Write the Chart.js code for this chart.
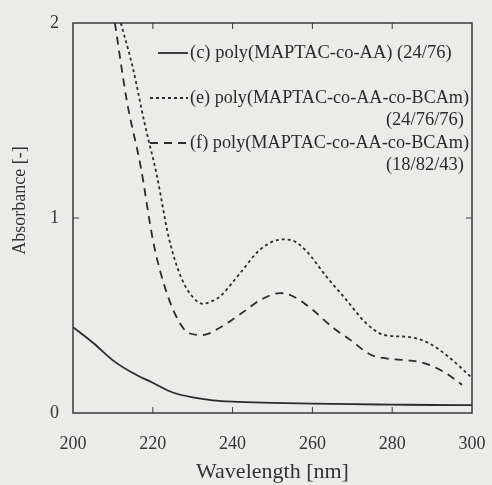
<!DOCTYPE html>
<html>
<head>
<meta charset="utf-8">
<script src="https://cdn.jsdelivr.net/npm/chart.js@4"></script>
<style>
html, body { margin: 0; padding: 0; background: #ebebea; }
#wrap { width: 492px; height: 485px; }
</style>
</head>
<body>
<div id="wrap"><canvas id="chart" width="492" height="485"></canvas></div>
<script>
// Axis ticks
const xTicks = [200, 220, 240, 260, 280, 300];
const yTicks = [0, 1, 2];

// (c) poly(MAPTAC-co-AA) (24/76) - solid
const wlC = [200, 205, 210, 215, 220, 225, 230, 235, 240, 250, 260, 270, 280, 290, 300];
const absC = [0.44, 0.36, 0.27, 0.205, 0.155, 0.105, 0.08, 0.065, 0.058, 0.052, 0.048, 0.045, 0.043, 0.041, 0.04];

// (e) poly(MAPTAC-co-AA-co-BCAm) (24/76/76) - dotted
const wlE = [212, 215, 218, 221, 224, 227, 230, 232.5, 235, 237, 240, 242, 247, 252.5, 255, 258.5, 263.5, 268.5, 273.5, 278, 284, 289, 294, 300];
const absE = [2.0, 1.77, 1.48, 1.22, 0.9, 0.7, 0.595, 0.56, 0.575, 0.6, 0.67, 0.72, 0.84, 0.89, 0.885, 0.83, 0.7, 0.58, 0.46, 0.4, 0.39, 0.36, 0.29, 0.18];

// (f) poly(MAPTAC-co-AA-co-BCAm) (18/82/43) - dashed
const wlF = [210.5, 213.5, 217, 220, 222.5, 226, 229, 232.5, 237, 243.5, 247, 252, 255, 260, 265, 269.5, 274.5, 278.5, 284, 288, 293, 297.5];
const absF = [2.0, 1.6, 1.26, 0.89, 0.68, 0.49, 0.41, 0.4, 0.44, 0.53, 0.58, 0.615, 0.6, 0.53, 0.44, 0.375, 0.3, 0.28, 0.27, 0.256, 0.21, 0.145];

const legendLines = [
    { dash: [], from: 85, text: ['(c) poly(MAPTAC-co-AA) (24/76)'] },
    { dash: [3, 3], from: 77, text: ['(e) poly(MAPTAC-co-AA-co-BCAm)', '(24/76/76)'] },
    { dash: [8, 6], from: 77, text: ['(f) poly(MAPTAC-co-AA-co-BCAm)', '(18/82/43)'] }
];

const ink = '#2b2b2b';
const serif = '"Liberation Serif", "DejaVu Serif", serif';

const toPoints = (xs, ys) => xs.map((x, i) => ({ x: x, y: ys[i] }));

// Frame, inward ticks, y title and the in-plot legend
const framePlugin = {
    id: 'frame',
    afterDraw(chart) {
        const ctx = chart.ctx;
        const a = chart.chartArea;
        const xs = chart.scales.x, ys = chart.scales.y;
        ctx.save();
        ctx.strokeStyle = '#3a3a3a';
        ctx.lineWidth = 1.5;
        ctx.strokeRect(a.left, a.top, a.right - a.left, a.bottom - a.top);
        ctx.lineWidth = 1;
        xTicks.slice(1, -1).forEach(v => {
            const px = xs.getPixelForValue(v);
            ctx.beginPath();
            ctx.moveTo(px, a.bottom); ctx.lineTo(px, a.bottom - 6);
            ctx.moveTo(px, a.top); ctx.lineTo(px, a.top + 6);
            ctx.stroke();
        });
        yTicks.slice(1, -1).forEach(v => {
            const py = ys.getPixelForValue(v);
            ctx.beginPath();
            ctx.moveTo(a.left, py); ctx.lineTo(a.left + 6, py);
            ctx.moveTo(a.right, py); ctx.lineTo(a.right - 6, py);
            ctx.stroke();
        });

        // y axis title (sits a little above the middle in the original)
        ctx.fillStyle = '#333';
        ctx.font = '18px ' + serif;
        ctx.textAlign = 'center';
        ctx.textBaseline = 'middle';
        ctx.translate(20, ys.getPixelForValue(1.09));
        ctx.rotate(-Math.PI / 2);
        ctx.fillText('Absorbance [-]', 0, 0);
        ctx.setTransform(1, 0, 0, 1, 0, 0);

        // legend
        ctx.font = '18.5px ' + serif;
        ctx.fillStyle = ink;
        ctx.strokeStyle = ink;
        const tops = [a.top + 30, a.top + 75, a.top + 120];
        const textX = a.left + 117;
        legendLines.forEach((item, i) => {
            const y = tops[i];
            ctx.lineWidth = 1.8;
            ctx.setLineDash(item.dash);
            ctx.beginPath();
            ctx.moveTo(a.left + item.from, y); ctx.lineTo(a.left + 115, y);
            ctx.stroke();
            ctx.setLineDash([]);
            ctx.textAlign = 'left';
            ctx.fillText(item.text[0], textX, y, a.right - textX - 3);
            if (item.text[1]) {
                ctx.textAlign = 'right';
                ctx.fillText(item.text[1], a.right - 8, y + 22);
            }
        });
        ctx.restore();
    }
};

const lineStyle = (dash) => ({
    borderColor: ink,
    borderWidth: 1.8,
    borderDash: dash,
    pointRadius: 0,
    fill: false,
    cubicInterpolationMode: 'monotone'
});

new Chart(document.getElementById('chart'), {
    type: 'line',
    data: {
        datasets: [
            Object.assign({ label: 'c', data: toPoints(wlC, absC) }, lineStyle([])),
            Object.assign({ label: 'e', data: toPoints(wlE, absE) }, lineStyle([3, 3])),
            Object.assign({ label: 'f', data: toPoints(wlF, absF) }, lineStyle([8, 6]))
        ]
    },
    options: {
        responsive: false,
        animation: false,
        layout: { padding: { left: 0, right: 20, top: 23, bottom: 0 } },
        plugins: { legend: { display: false }, tooltip: { enabled: false } },
        scales: {
            x: {
                type: 'linear',
                min: 200,
                max: 300,
                afterBuildTicks: (s) => { s.ticks = xTicks.map(v => ({ value: v })); },
                afterFit: (s) => { s.height = 72; s.paddingLeft = 0; s.paddingRight = 0; },
                grid: { display: false, drawTicks: false },
                border: { display: false },
                ticks: { color: '#333', padding: 20, font: { family: serif, size: 18 } },
                title: {
                    display: true,
                    text: 'Wavelength [nm]',
                    color: '#333',
                    font: { family: serif, size: 22 },
                    padding: { top: 0, bottom: 0 }
                }
            },
            y: {
                min: 0,
                max: 2,
                afterBuildTicks: (s) => { s.ticks = yTicks.map(v => ({ value: v })); },
                afterFit: (s) => { s.width = 73; s.paddingTop = 0; s.paddingBottom = 0; },
                grid: { display: false, drawTicks: false },
                border: { display: false },
                ticks: { color: '#333', padding: 14, font: { family: serif, size: 18 } }
            }
        }
    },
    plugins: [framePlugin]
});
</script>
</body>
</html>
